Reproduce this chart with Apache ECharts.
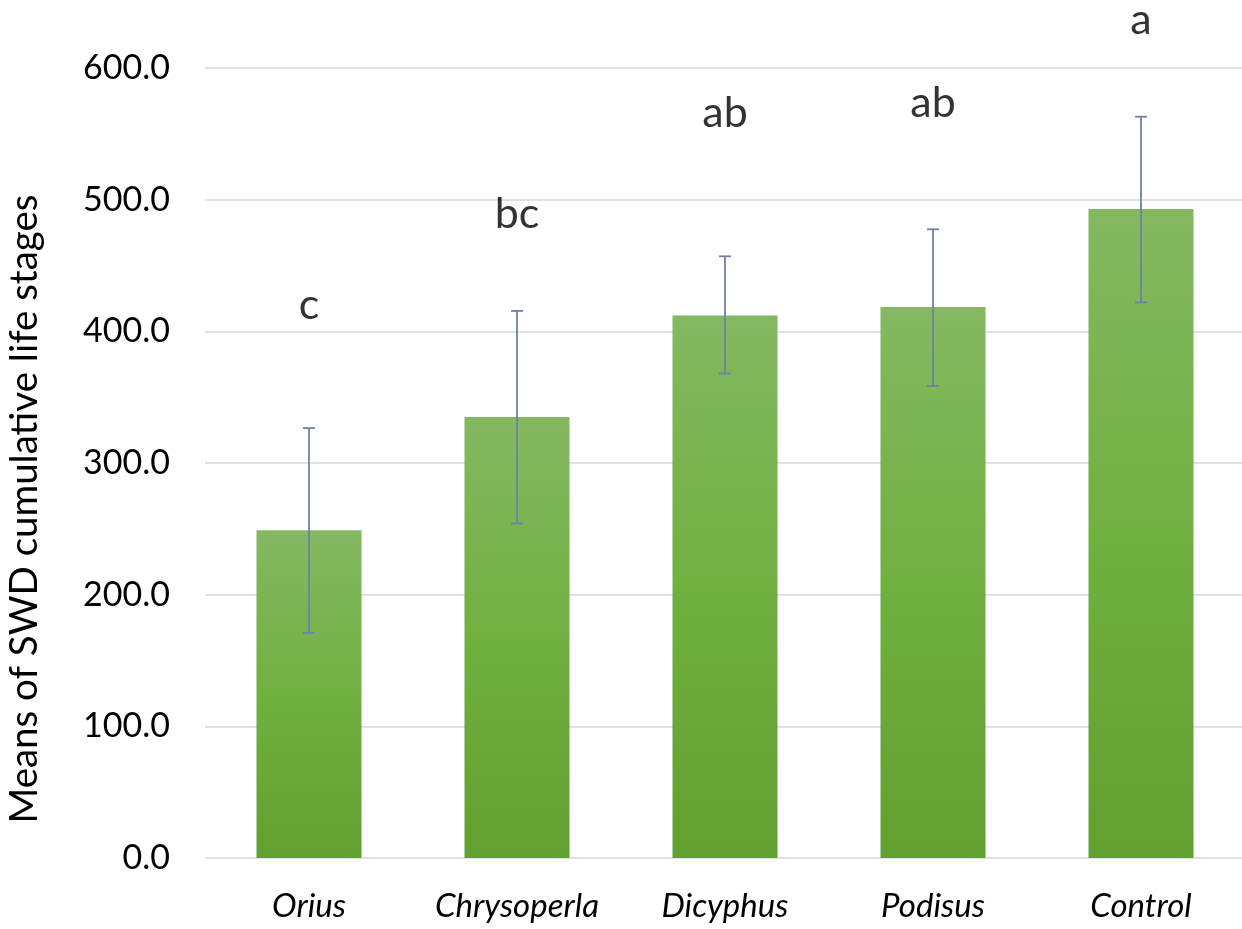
<!DOCTYPE html>
<html><head><meta charset="utf-8">
<script src="https://cdn.jsdelivr.net/npm/echarts@6/dist/echarts.min.js"></script>
<style>html,body{margin:0;padding:0;background:#fff}#c{width:1242px;height:929px}</style>
</head><body><div id="c"></div>
<script>
var categories = ['Orius', 'Chrysoperla', 'Dicyphus', 'Podisus', 'Control'];
var means = [249, 335, 412, 418.5, 493];
var errLow = [171, 254, 368, 358.5, 422];
var errHigh = [326.5, 415.5, 457, 477.5, 563];
var letters = ['c', 'bc', 'ab', 'ab', 'a'];
var letterPos = [420, 489, 566, 573, 636];
var yTicks = [0, 100, 200, 300, 400, 500, 600];
var yTitle = 'Means of SWD cumulative life stages';

var FONT = 'Lato';
var chart = echarts.init(document.getElementById('c'));
chart.setOption({
  animation: false,
  backgroundColor: '#ffffff',
  grid: { left: 205, top: 68, bottom: 71, width: 1040, containLabel: false, outerBoundsMode: 'none' },
  graphic: [{
    type: 'text', x: 25, y: 509, rotation: Math.PI / 2,
    style: { text: yTitle, fontFamily: FONT, fontSize: 38.5, fill: '#000', align: 'center', verticalAlign: 'middle' }
  }],
  xAxis: {
    type: 'category', data: categories,
    axisLine: { show: false }, axisTick: { show: false },
    axisLabel: { interval: 0, hideOverlap: false, fontFamily: FONT, fontSize: 33, fontStyle: 'italic', color: '#000', margin: 32 }
  },
  yAxis: {
    type: 'value', min: yTicks[0], max: yTicks[yTicks.length - 1], interval: 100,
    axisLine: { show: false }, axisTick: { show: false },
    axisLabel: { fontFamily: FONT, fontSize: 34, color: '#000', margin: 35,
      formatter: function (v) { return v.toFixed(1); } },
    splitLine: { lineStyle: { color: '#dde1e8', width: 2 } }
  },
  series: [
    {
      type: 'bar', data: means, barWidth: '50.5%',
      itemStyle: {
        color: new echarts.graphic.LinearGradient(0, 0, 0, 1, [
          { offset: 0, color: '#85b862' },
          { offset: 0.5, color: '#70b040' },
          { offset: 1, color: '#62a131' }
        ])
      }
    },
    {
      type: 'custom', z: 10,
      data: categories.map(function (c, i) { return [i, errLow[i], errHigh[i]]; }),
      renderItem: function (params, api) {
        var lo = api.coord([api.value(0), api.value(1)]);
        var hi = api.coord([api.value(0), api.value(2)]);
        var hw = 6;
        var st = { stroke: '#6b82a4', lineWidth: 1.8 };
        return { type: 'group', children: [
          { type: 'line', shape: { x1: hi[0], y1: hi[1], x2: lo[0], y2: lo[1] }, style: st },
          { type: 'line', shape: { x1: hi[0] - hw, y1: hi[1], x2: hi[0] + hw, y2: hi[1] }, style: st },
          { type: 'line', shape: { x1: lo[0] - hw, y1: lo[1], x2: lo[0] + hw, y2: lo[1] }, style: st }
        ]};
      }
    },
    {
      type: 'scatter', symbolSize: 1, clip: false, itemStyle: { color: 'rgba(0,0,0,0)' },
      data: categories.map(function (c, i) { return [i, letterPos[i]]; }),
      label: { show: true, position: 'inside', fontFamily: FONT, fontSize: 43, color: '#000',
        formatter: function (p) { return letters[p.dataIndex]; } }
    }
  ]
});
</script></body></html>
